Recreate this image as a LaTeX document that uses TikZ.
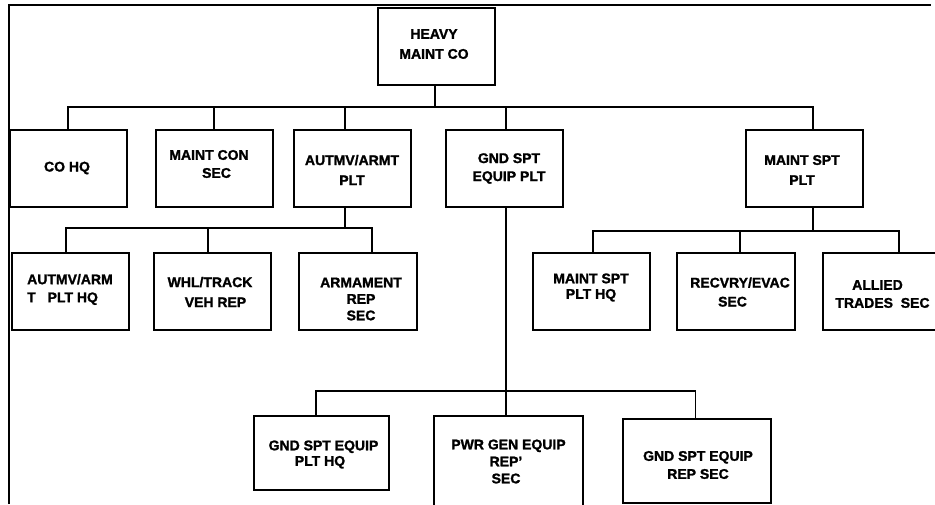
\documentclass[tikz,border=0pt]{standalone}
\usepackage{fontspec}
\setmainfont{Liberation Sans}[BoldFeatures={FakeBold=1.5}]
\usetikzlibrary{calc}
\tikzset{
  orgbox/.style={draw, line width=1.8pt, inner sep=0pt, minimum width=117pt, minimum height=77pt},
  lbl/.style={inner sep=0pt, align=center, font=\fontsize{14}{#1}\selectfont\bfseries},
  lbl/.default=18,
  conn/.style={line width=1.5pt},
  frameline/.style={line width=2.8pt}
}
\begin{document}
\begin{tikzpicture}[x=1pt,y=1pt]
\useasboundingbox (0,0) rectangle (935,-504);
\clip (0,0) rectangle (935,-504);
% frame
\draw[frameline] (9,-504) -- (9,-5) -- (931,-5);
% boxes
\node[orgbox] (heavy) at (436.5,-46.5) {};
\node[orgbox] (cohq) at (68.5,-168.5) {};
\node[orgbox] (maintcon) at (214.5,-168.5) {};
\node[orgbox] (autmv) at (352.5,-168.5) {};
\node[orgbox] (gnd) at (504.5,-168.5) {};
\node[orgbox] (maintspt) at (804.5,-168.5) {};
\node[orgbox] (autmvhq) at (70.5,-291.5) {};
\node[orgbox] (whl) at (212.5,-291.5) {};
\node[orgbox, minimum width=118pt] (armament) at (358,-291.5) {};
\node[orgbox] (mainthq) at (591.5,-291.5) {};
\node[orgbox, minimum width=118pt] (recvry) at (736,-291.5) {};
\node[orgbox] (allied) at (881.5,-291.5) {};
\node[orgbox, minimum width=135pt, minimum height=74pt] (gndhq) at (321.5,-453) {};
\node[orgbox, minimum width=149pt, minimum height=104pt] (pwr) at (508.5,-468) {};
\node[orgbox, minimum width=148pt, minimum height=84pt] (gndrep) at (697,-461) {};
% labels
\node[lbl=20] (heavy-t) at (434,-44) {HEAVY\\MAINT CO};
\node[lbl] (cohq-t) at (67,-168) {CO HQ};
\node[lbl] (maintcon-t) at (212.75,-164) {MAINT CON\hspace*{7.5pt}\\\hspace*{7.5pt}SEC};
\node[lbl=20] (autmv-t) at (352,-170) {AUTMV/ARMT\\PLT};
\node[lbl] (gnd-t) at (509,-168.5) {GND SPT\\EQUIP PLT};
\node[lbl=20] (maintspt-t) at (802,-170) {MAINT SPT\\PLT};
\node[lbl, align=left, anchor=west] (autmvhq-t) at (27,-289.5) {AUTMV/ARM\\T\hspace{8pt} PLT HQ};
\node[lbl=20] (whl-t) at (212.75,-292) {WHL/TRACK\hspace*{5.5pt}\\\hspace*{5.5pt}VEH REP};
\node[lbl=16.5] (armament-t) at (361,-299) {ARMAMENT\\REP\\SEC};
\node[lbl=15.5] (mainthq-t) at (591,-287.5) {MAINT SPT\\PLT HQ};
\node[lbl=19] (recvry-t) at (736.25,-292) {\hspace*{7.5pt}RECVRY/EVAC\\SEC\hspace*{7.5pt}};
\node[lbl] (allied-t) at (880,-294) {ALLIED\hspace*{5pt}\\\hspace*{5pt}TRADES\ \ SEC};
\node[lbl=15.5] (gndhq-t) at (321.75,-454.5) {\hspace*{3.5pt}GND SPT EQUIP\\PLT HQ\hspace*{3.5pt}};
\node[lbl=17] (pwr-t) at (506,-461.5) {\hspace*{5pt}PWR GEN EQUIP\\REP’\\SEC};
\node[lbl] (gndrep-t) at (698,-465) {GND SPT EQUIP\\REP SEC};
% bus levels
\coordinate (y1) at (0,-107);
\coordinate (y2) at (0,-228);
\coordinate (y3) at (0,-231);
\coordinate (y4) at (0,-391);
% level 1
\draw[conn] ([xshift=-1.5pt]heavy.south) -- ([xshift=-1.5pt]heavy.south |- y1);
\draw[conn] ([xshift=-0.5pt]cohq.north) -- ([xshift=-0.5pt]cohq.north |- y1)
  -- ([xshift=8.5pt]maintspt.north |- y1) -- ([xshift=8.5pt]maintspt.north);
\draw[conn] ([xshift=-0.5pt]maintcon.north) -- ([xshift=-0.5pt]maintcon.north |- y1);
\draw[conn] ([xshift=-7.5pt]autmv.north) -- ([xshift=-7.5pt]autmv.north |- y1);
\draw[conn] ([xshift=1.5pt]gnd.north) -- ([xshift=1.5pt]gnd.north |- y1);
% autmv group
\draw[conn] ([xshift=-7.5pt]autmv.south) -- ([xshift=-7.5pt]autmv.south |- y2);
\draw[conn] ([xshift=-4.5pt]autmvhq.north) -- ([xshift=-4.5pt]autmvhq.north |- y2)
  -- ([xshift=14pt]armament.north |- y2) -- ([xshift=14pt]armament.north);
\draw[conn] ([xshift=-4.5pt]whl.north) -- ([xshift=-4.5pt]whl.north |- y2);
% maint spt group
\draw[conn] ([xshift=8.5pt]maintspt.south) -- ([xshift=8.5pt]maintspt.south |- y3);
\draw[conn] ([xshift=1.5pt]mainthq.north) -- ([xshift=1.5pt]mainthq.north |- y3)
  -- ([xshift=17.5pt]allied.north |- y3) -- ([xshift=17.5pt]allied.north);
\draw[conn] ([xshift=4pt]recvry.north) -- ([xshift=4pt]recvry.north |- y3);
% gnd group
\draw[conn] ([xshift=1.5pt]gnd.south) -- ([xshift=-2.5pt]pwr.north);
\draw[conn] ([xshift=-5.5pt]gndhq.north) -- ([xshift=-5.5pt]gndhq.north |- y4)
  -- ([xshift=-1.5pt]gndrep.north |- y4) -- ([xshift=-1.5pt]gndrep.north);
\end{tikzpicture}
\end{document}
